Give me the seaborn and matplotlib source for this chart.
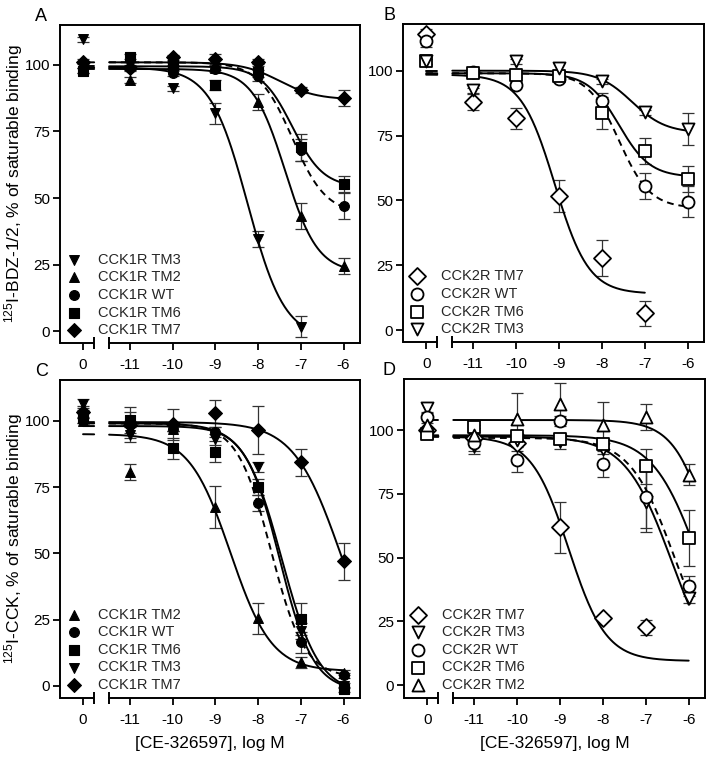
import matplotlib.pyplot as plt
import matplotlib.transforms as mtransforms
import numpy as np
import pandas as pd
import seaborn as sns

sns.set_theme(style="ticks")
plt.rcParams["font.family"] = ["Liberation Sans", "DejaVu Sans"]
plt.rcParams["mathtext.default"] = "regular"

# x positions: "0" (no drug) sits left of the axis break
x_pos = [-12.1, -11, -10, -9, -8, -7, -6]
x_labels = ["0", "-11", "-10", "-9", "-8", "-7", "-6"]
nan = np.nan

# ---- panel A: 125I-BDZ-1/2, CCK1R constructs
a_labels = ["CCK1R TM3", "CCK1R TM2", "CCK1R WT", "CCK1R TM6", "CCK1R TM7"]
a_markers = ["v", "^", "o", "s", "D"]
a_values = [
    [109.6, 100.0, 91.2, 81.8, 34.5, 1.6, nan],
    [100.0, 94.4, 99.0, 99.0, 86.2, 43.2, 24.4],
    [98.0, 99.0, 96.9, 98.5, 96.0, 68.0, 47.0],
    [97.9, 103.1, 100.0, 92.5, 97.5, 69.0, 55.1],
    [101.2, 98.7, 102.9, 102.3, 101.3, 90.6, 87.5],
]
a_errors = [
    [1, 1, 1, 4, 3, 4, nan],
    [1, 1, 1, 1, 3, 5, 3],
    [1, 1, 1, 1, 2, 4, 5],
    [1, 1, 1, 2, 2, 5, 3],
    [1, 1, 1, 2, 1, 1, 3],
]
# top, bottom, logIC50, hill slope, last x of fitted curve
a_fits = [
    (99, -3, -8.25, 1.0, -7),
    (98.5, 22, -7.37, 1.14, -6),
    (101, 44, -7.2, 1.1, -6),
    (99.5, 54, -7.2, 1.2, -6),
    (101, 87, -7.5, 1.0, -6),
]
a_dashed = [False, False, True, False, False]

# ---- panel B: 125I-BDZ-1/2, CCK2R constructs
b_labels = ["CCK2R TM7", "CCK2R WT", "CCK2R TM6", "CCK2R TM3"]
b_markers = ["D", "o", "s", "v"]
b_values = [
    [114.2, 87.9, 81.7, 51.7, 27.7, 6.4, nan],
    [111.3, 99.5, 94.6, 96.9, 88.5, 55.6, 49.5],
    [103.6, 99.0, 98.5, 98.0, 83.7, 69.2, 58.3],
    [103.6, 92.5, 103.6, 101.0, 95.9, 84.0, 77.5],
]
b_errors = [
    [2, 3, 4, 6, 7, 5, nan],
    [2, 1, 1, 1, 3, 5, 6],
    [1, 1, 1, 1, 6, 5, 5],
    [1, 1, 1, 2, 1, 1, 6],
]
b_fits = [
    (98.5, 14, -9.1, 1.1, -7),
    (99, 47, -7.6, 1.2, -6),
    (99, 59, -7.6, 1.2, -6),
    (100, 76, -7.3, 1.1, -6),
]
b_dashed = [False, True, False, False]

# ---- panel C: 125I-CCK, CCK1R constructs
c_labels = ["CCK1R TM2", "CCK1R WT", "CCK1R TM6", "CCK1R TM3", "CCK1R TM7"]
c_markers = ["^", "o", "s", "v", "D"]
c_values = [
    [100.0, 80.8, 97.0, 67.5, 25.4, 8.8, 5.0],
    [103.0, 99.0, 97.0, 95.8, 69.0, 16.4, 4.0],
    [101.0, 100.3, 89.6, 88.3, 75.1, 25.2, -1.3],
    [106.2, 94.8, 97.0, 93.0, 82.6, 20.6, 0.0],
    [103.4, 98.4, 98.6, 102.8, 96.5, 84.3, 47.0],
]
c_errors = [
    [1, 3, 1, 8, 6, 2, 1],
    [2, 1, 1, 2, 3, 4, 1],
    [2, 5, 4, 4, 3, 6, 1],
    [2, 3, 1, 2, 2, 3, 1],
    [2, 5, 6, 5, 9, 5, 7],
]
c_fits = [
    (95, 5.5, -8.65, 0.9, -6),
    (99, 3, -7.7, 1.1, -6),
    (99, -3, -7.45, 1.0, -6),
    (98, -2, -7.5, 1.1, -6),
    (99.5, 0, -6.07, 0.79, -6),
]
c_dashed = [False, True, False, False, False]

# ---- panel D: 125I-CCK, CCK2R constructs
d_labels = ["CCK2R TM7", "CCK2R TM3", "CCK2R WT", "CCK2R TM6", "CCK2R TM2"]
d_markers = ["D", "v", "o", "s", "^"]
d_values = [
    [100.0, 97.0, 95.0, 62.0, 26.5, 22.7, nan],
    [108.8, 93.7, 96.3, 95.7, 92.8, 72.0, 34.3],
    [105.0, 95.0, 88.5, 103.5, 86.8, 73.7, 39.0],
    [98.6, 101.2, 97.6, 96.7, 94.4, 85.8, 57.7],
    [102.2, 98.0, 104.4, 110.4, 102.0, 105.2, 82.6],
]
d_errors = [
    [1, 2, 3, 10, 1, 3, nan],
    [2, 3, 2, 3, 2, 12, 2],
    [2, 3, 5, 2, 5, 12, 4],
    [2, 1, 1, 2, 2, 7, 11],
    [2, 3, 10, 8, 9, 5, 4],
]
d_fits = [
    (97.5, 9.5, -8.8, 1.0, -6),
    (97.5, 0, -6.4, 0.8, -6),
    (97, 5, -6.35, 0.85, -6),
    (98, 0, -5.75, 0.8, -6),
    (104, 0, -5.4, 1.0, -6),
]
d_dashed = [False, False, True, False, False]

panels = [
    ("A", a_labels, a_markers, a_values, a_errors, a_fits, a_dashed, True,
     (-4.5, 115), "$^{125}$I-BDZ-1/2, % of saturable binding", None),
    ("B", b_labels, b_markers, b_values, b_errors, b_fits, b_dashed, False,
     (-4.6, 118), None, None),
    ("C", c_labels, c_markers, c_values, c_errors, c_fits, c_dashed, True,
     (-4.6, 115.4), "$^{125}$I-CCK, % of saturable binding", "[CE-326597], log M"),
    ("D", d_labels, d_markers, d_values, d_errors, d_fits, d_dashed, False,
     (-5.0, 120), None, "[CE-326597], log M"),
]
rects = [
    [0.084, 0.548, 0.420, 0.419],
    [0.5644, 0.5494, 0.4216, 0.419],
    [0.084, 0.0804, 0.420, 0.419],
    [0.5658, 0.0804, 0.4216, 0.420],
]
letter_x = [-0.063, -0.045, -0.063, -0.05]

XLIM = (-12.64, -5.62)
BREAK_L, BREAK_R = -11.84, -11.49


def hill(x, top, bottom, logic50, slope):
    return bottom + (top - bottom) / (1 + 10 ** ((x - logic50) * slope))


fig = plt.figure(figsize=(7.14, 7.59), dpi=100)

for (letter, labels, markers, values, errors, fits, dashed, filled,
     ylim, ylabel, xlabel), rect, lx in zip(panels, rects, letter_x):
    ax = fig.add_axes(rect)

    # fitted curves, drawn on both sides of the axis break
    for fit, dash in zip(fits, dashed):
        top, bottom, c50, slope, x_end = fit
        ls = (0, (3.5, 2.5)) if dash else "-"
        for xs in (np.linspace(x_pos[0], BREAK_L, 5),
                   np.linspace(BREAK_R, x_end, 200)):
            sns.lineplot(x=xs, y=hill(xs, top, bottom, c50, slope), ax=ax,
                         color="black", linewidth=1.4, linestyle=ls,
                         zorder=2, sort=False)

    for lab, m, vals, errs in zip(labels, markers, values, errors):
        ax.errorbar(x_pos, vals, yerr=errs, fmt="none", ecolor="#333333",
                    elinewidth=0.9, capsize=4, capthick=0.9, zorder=1)
        if filled:
            sns.scatterplot(x=x_pos, y=vals, ax=ax, marker=m, s=50,
                            color="black", edgecolor="black", linewidth=0.8,
                            zorder=3, label=lab)
        else:
            sns.scatterplot(x=x_pos, y=vals, ax=ax, marker=m, s=75,
                            facecolor="white", edgecolor="black",
                            linewidth=1.3, zorder=3, label=lab)

    ax.set_xlim(XLIM)
    ax.set_ylim(ylim)
    ax.set_xticks(x_pos)
    ax.set_xticklabels(x_labels)
    ax.set_yticks([0, 25, 50, 75, 100])
    ax.tick_params(axis="both", direction="out", length=5, width=1.3,
                   labelsize=11, color="black", labelcolor="black")
    ax.tick_params(axis="x", pad=6)
    ax.tick_params(axis="y", pad=2)
    for side in ["left", "right", "top", "bottom"]:
        ax.spines[side].set_visible(True)
        ax.spines[side].set_linewidth(1.4)
        ax.spines[side].set_color("black")
    ax.spines["bottom"].set_bounds(BREAK_R, XLIM[1])

    # left piece of the broken x-axis and the break bars
    trans = mtransforms.blended_transform_factory(ax.transData, ax.transAxes)
    ax.plot([XLIM[0], BREAK_L], [0, 0], transform=trans, color="black",
            linewidth=1.4, clip_on=False, solid_capstyle="butt")
    ax.plot([BREAK_L, BREAK_R], [0, 0], transform=trans, linestyle="none",
            marker="|", markersize=8, markeredgewidth=1.4, color="black",
            clip_on=False)

    if ylabel:
        ax.set_ylabel(ylabel, fontsize=12.5, color="black")
        ax.yaxis.set_label_coords(-0.117, 0.5)
    else:
        ax.set_ylabel("")
    if xlabel:
        ax.set_xlabel(xlabel, fontsize=12.5, labelpad=6, color="black")
    else:
        ax.set_xlabel("")

    ax.legend(loc="lower left", bbox_to_anchor=(0.004, 0.0), frameon=False,
              fontsize=10.5, handlelength=1.0, handletextpad=1.1,
              labelspacing=0.25, borderaxespad=0.0)

    ax.text(lx, 1.028, letter, transform=ax.transAxes, fontsize=13,
            ha="center", va="center", color="black")

fig.savefig("out.png", dpi=100)
